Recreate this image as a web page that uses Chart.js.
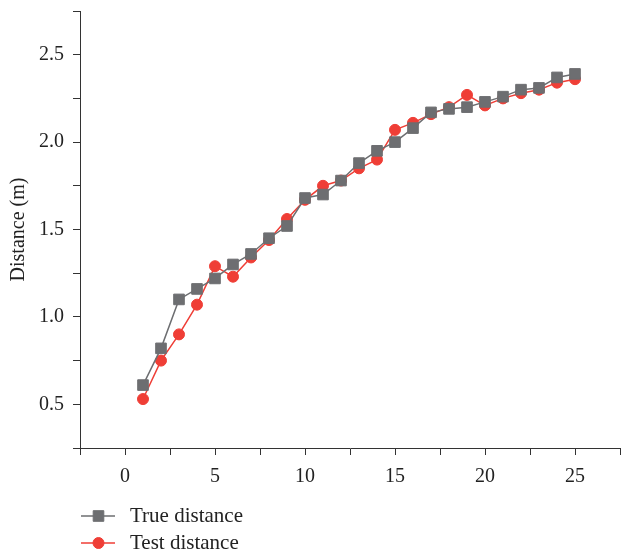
<!DOCTYPE html>
<html>
<head>
<meta charset="utf-8">
<script src="https://cdn.jsdelivr.net/npm/chart.js@4"></script>
<style>
  html, body { margin: 0; padding: 0; background: #fff; }
  #wrap { width: 622px; height: 553px; }
</style>
</head>
<body>
<div id="wrap"><canvas id="myChart" width="622" height="553"></canvas></div>
<script>
const trials = [1, 2, 3, 4, 5, 6, 7, 8, 9, 10, 11, 12, 13, 14, 15, 16, 17, 18, 19, 20, 21, 22, 23, 24, 25];
const trueDistance = [0.61, 0.82, 1.10, 1.16, 1.22, 1.30, 1.36, 1.45, 1.52, 1.68, 1.70, 1.78, 1.88, 1.95, 2.00, 2.08, 2.17, 2.19, 2.20, 2.23, 2.26, 2.30, 2.31, 2.37, 2.39];
const testDistance = [0.53, 0.75, 0.90, 1.07, 1.29, 1.23, 1.34, 1.44, 1.56, 1.67, 1.75, 1.78, 1.85, 1.90, 2.07, 2.11, 2.16, 2.20, 2.27, 2.21, 2.25, 2.28, 2.30, 2.34, 2.36];
const xLabels = [0, 5, 10, 15, 20, 25];
const yLabels = [0.5, 1.0, 1.5, 2.0, 2.5];

const serif = "'Liberation Serif', 'DejaVu Serif', serif";
const axisColor = '#333';

function toPoints(values) {
  return trials.map((t, i) => ({ x: t, y: values[i] }));
}

// legend drawn under the axes, one entry per row, line through the marker
const stackedLegend = {
  id: 'stackedLegend',
  afterDraw(chart) {
    const ctx = chart.ctx;
    chart.data.datasets.forEach((ds, i) => {
      const y = 516 + i * 27;
      ctx.save();
      ctx.strokeStyle = ds.borderColor;
      ctx.lineWidth = ds.borderWidth;
      ctx.beginPath();
      ctx.moveTo(81, y);
      ctx.lineTo(115, y);
      ctx.stroke();
      ctx.fillStyle = ds.pointBackgroundColor;
      ctx.strokeStyle = ds.pointBorderColor;
      ctx.lineWidth = 1;
      Chart.helpers.drawPoint(ctx, { pointStyle: ds.pointStyle, radius: ds.pointRadius, rotation: 0, borderWidth: 1 }, 98.5, y);
      ctx.fillStyle = '#222';
      ctx.font = '21px ' + serif;
      ctx.textBaseline = 'middle';
      ctx.fillText(ds.label, 130, y);
      ctx.restore();
    });
  }
};

new Chart(document.getElementById('myChart'), {
  type: 'line',
  data: {
    datasets: [{
      label: 'True distance',
      data: toPoints(trueDistance),
      borderColor: '#6d6e71',
      borderWidth: 1.5,
      pointStyle: 'rect',
      pointRadius: 7.5,
      pointBackgroundColor: '#6d6e71',
      pointBorderColor: '#6d6e71',
      pointBorderWidth: 1,
      tension: 0,
    }, {
      label: 'Test distance',
      data: toPoints(testDistance),
      borderColor: '#ef3e36',
      borderWidth: 1.5,
      pointStyle: 'circle',
      pointRadius: 5.5,
      pointBackgroundColor: '#ef3e36',
      pointBorderColor: '#ef3e36',
      pointBorderWidth: 1,
      tension: 0,
    }]
  },
  options: {
    responsive: false,
    animation: false,
    layout: { autoPadding: false, padding: { top: 11, right: 2, left: 0, bottom: 60 } },
    plugins: {
      legend: { display: false },
      tooltip: { enabled: false },
    },
    scales: {
      x: {
        type: 'linear',
        min: -2.5,
        max: 27.5,
        afterFit: (scale) => {
          scale.height = 45;
          scale.paddingLeft = 0;
          scale.paddingRight = 0;
        },
        ticks: {
          stepSize: 2.5,
          autoSkip: false,
          maxRotation: 0,
          padding: 10,
          color: '#222',
          font: { family: serif, size: 20 },
          callback: (v) => xLabels.includes(v) ? String(v) : '',
        },
        grid: { drawOnChartArea: false, tickLength: 7, color: axisColor },
        border: { color: axisColor, width: 1 },
      },
      y: {
        min: 0.25,
        max: 2.75,
        afterFit: (scale) => {
          scale.width = 80;
          scale.paddingTop = 0;
          scale.paddingBottom = 0;
        },
        title: {
          display: true,
          text: 'Distance (m)',
          color: '#222',
          font: { family: serif, size: 20 },
          padding: { top: 7, bottom: 0 },
        },
        ticks: {
          stepSize: 0.25,
          autoSkip: false,
          padding: 9,
          color: '#222',
          font: { family: serif, size: 20 },
          callback: (v) => yLabels.some(l => Math.abs(l - v) < 1e-6) ? v.toFixed(1) : '',
        },
        grid: { drawOnChartArea: false, tickLength: 7, color: axisColor },
        border: { color: axisColor, width: 1 },
      }
    }
  },
  plugins: [stackedLegend]
});
</script>
</body>
</html>
